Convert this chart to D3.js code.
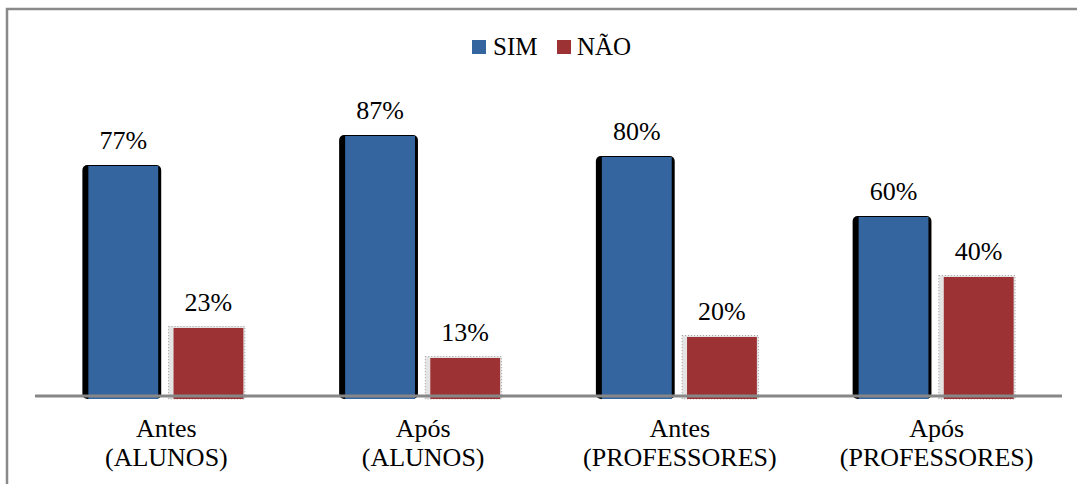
<!DOCTYPE html>
<html>
<head>
<meta charset="utf-8">
<script src="https://cdn.jsdelivr.net/npm/d3@7"></script>
</head>
<body>
<svg id="chart" width="1077" height="484"></svg>
<script>
/************************************ Data *******************************/
var categorias = [["Antes", "(ALUNOS)"], ["Após", "(ALUNOS)"], ["Antes", "(PROFESSORES)"], ["Após", "(PROFESSORES)"]];
var series = ["SIM", "NÃO"];
var valoresSim = [77, 87, 80, 60];
var valoresNao = [23, 13, 20, 40];
var cores = ["#34659f", "#9d3234"];

/************************************ Chart *******************************/
var W = 1077, H = 484;
d3.select("body").style("margin", "0px");
var svg = d3.select("#chart");

// outer frame
svg.append("rect").attr("x", 7).attr("y", 9).attr("width", W + 10).attr("height", H + 10)
	.attr("fill", "none").attr("stroke", "#8a8a8a").attr("stroke-width", 2.5);

var base = 397;
var x0 = d3.scaleBand().domain(d3.range(categorias.length)).range([37, 1064]);
var x1 = d3.scaleBand().domain(series).range([-77, 78]).paddingInner(0.18);
var y = d3.scaleLinear().domain([0, 100]).range([base, base - 300]);

var dados = [];
categorias.forEach(function(c, i) {
	dados.push({cat: i, s: "SIM", v: valoresSim[i]});
	dados.push({cat: i, s: "NÃO", v: valoresNao[i]});
});

function bx(d) { return x0(d.cat) + x0.bandwidth() / 2 + x1(d.s); }

// shadows: black for SIM, light dotted grey for NÃO
svg.selectAll("rect.sh").data(dados).enter().append("rect")
	.attr("class", "sh")
	.attr("x", function(d) { return bx(d) - (d.s === "SIM" ? 6 : 5); })
	.attr("y", function(d) { return y(d.v) - (d.s === "SIM" ? 1 : 1.5); })
	.attr("width", function(d) { return x1.bandwidth() + (d.s === "SIM" ? 9 : 6.5); })
	.attr("height", function(d) { return base + 2 - y(d.v) + (d.s === "SIM" ? 1 : 1.5); })
	.attr("rx", function(d) { return d.s === "SIM" ? 5 : 0; })
	.attr("fill", function(d) { return d.s === "SIM" ? "#000" : "#e4e4e4"; })
	.attr("stroke", function(d) { return d.s === "SIM" ? "none" : "#a0a0a0"; })
	.attr("stroke-width", 1)
	.attr("stroke-dasharray", "1,2");

// bars
svg.selectAll("rect.bar").data(dados).enter().append("rect")
	.attr("class", "bar")
	.attr("x", bx)
	.attr("y", function(d) { return y(d.v); })
	.attr("width", x1.bandwidth())
	.attr("height", function(d) { return base + 2 - y(d.v); })
	.attr("fill", function(d) { return cores[series.indexOf(d.s)]; });

// axis line
svg.append("line").attr("x1", 35).attr("x2", 1062).attr("y1", base - 1).attr("y2", base - 1)
	.attr("stroke", "#878787").attr("stroke-width", 3);

// value labels
svg.selectAll("text.val").data(dados).enter().append("text")
	.attr("class", "val")
	.attr("x", function(d) { return bx(d) + x1.bandwidth() / 2; })
	.attr("y", function(d) { return y(d.v) - 17; })
	.attr("text-anchor", "middle")
	.attr("font-size", 26)
	.style("font-family", "'Liberation Serif'")
	.text(function(d) { return d.v + "%"; });

// category labels
var cl = svg.selectAll("text.cat").data(categorias).enter().append("text")
	.attr("class", "cat")
	.attr("text-anchor", "middle")
	.attr("font-size", 26)
	.style("font-family", "'Liberation Serif'");
cl.append("tspan")
	.attr("x", function(d, i) { return x0(i) + x0.bandwidth() / 2 + 1; })
	.attr("y", 437)
	.text(function(d) { return d[0]; });
cl.append("tspan")
	.attr("x", function(d, i) { return x0(i) + x0.bandwidth() / 2 + 1; })
	.attr("y", 466)
	.text(function(d) { return d[1]; });

// legend
var legX = [472, 557];
var leg = svg.selectAll("g.leg").data(series).enter().append("g")
	.attr("class", "leg")
	.attr("transform", function(d, i) { return "translate(" + legX[i] + ",40)"; });
leg.append("rect").attr("width", 14).attr("height", 14)
	.attr("fill", function(d, i) { return cores[i]; });
leg.append("text")
	.attr("x", function(d, i) { return i === 0 ? 21 : 20; })
	.attr("y", 15)
	.attr("font-size", 25)
	.style("font-family", "'Liberation Serif'")
	.text(function(d) { return d; });
</script>
</body>
</html>
